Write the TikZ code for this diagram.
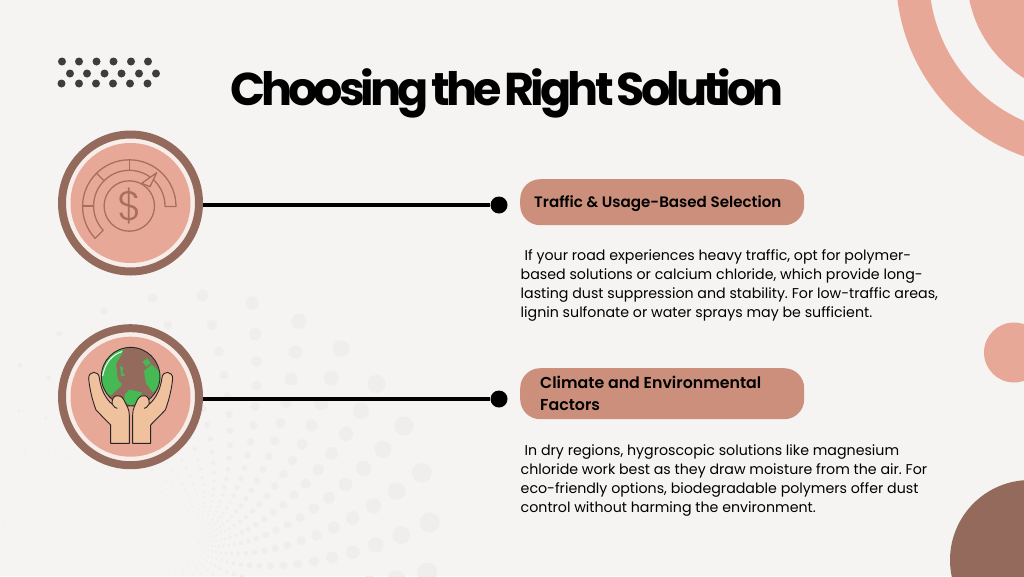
\documentclass[tikz,border=0pt]{standalone}
\usepackage{fontspec}
\setmainfont{Poppins}
\newfontfamily\popsemi{Poppins SemiBold}
\newfontfamily\poptitle[LetterSpace=-8.5,WordSpace=0.5]{Poppins Bold}
\newfontfamily\poplight{Poppins Light}
\usetikzlibrary{calc}
\definecolor{bgc}{HTML}{F6F4F2}
\definecolor{dotbg}{HTML}{EFEEEC}
\definecolor{pinkc}{HTML}{E8A898}
\definecolor{brownc}{HTML}{946A5C}
\definecolor{pillc}{HTML}{CB8F7B}
\definecolor{gapc}{HTML}{F7EDE9}
\definecolor{iconc}{HTML}{A86F5C}
\definecolor{dotc}{HTML}{3F3D3B}
\definecolor{skin}{HTML}{EFC19C}
\definecolor{greenc}{HTML}{45B954}
\tikzset{
  x=1pt,y=-1pt,
  ringnode/.style={circle,fill=gapc,draw=brownc,line width=8pt,minimum size=137pt,inner sep=0pt},
  pinknode/.style={circle,fill=pinkc,minimum size=120pt,inner sep=0pt},
  pillnode/.style={rounded corners=20pt,fill=pillc,minimum width=284pt,anchor=north west,inner sep=0pt},
  pilltext/.style={font=\popsemi\fontsize{15.1}{21.8}\selectfont,text=black,align=left,anchor=west,inner sep=0pt},
  pilltextb/.style={font=\popsemi\fontsize{15.8}{21.8}\selectfont,text=black,align=left,anchor=west,inner sep=0pt},
  bodytext/.style={font=\frenchspacing\fontsize{14.2}{19.2}\selectfont,text=black,align=left,anchor=north west,inner sep=0pt},
  enddot/.style={circle,fill=black,minimum size=17pt,inner sep=0pt},
  wire/.style={line width=4.5pt,black},
  gauge/.style={draw=iconc,line width=1.3pt,line join=round},
  handline/.style={draw=black!85,line width=0.9pt,line join=round,fill=skin}
}
\begin{document}
\begin{tikzpicture}
\fill[bgc] (0,0) rectangle (1024,576);
\useasboundingbox (0,0) rectangle (1024,576);
% background dot swirl
\begin{scope}
\clip (0,0) rectangle (1024,576);
\foreach \i in {0,...,24}{
  \foreach \j in {0,...,29}{
    \pgfmathsetmacro{\Rr}{240*0.88^\i}
    \pgfmathsetmacro{\Th}{3+12*\j-3*\i}
    \pgfmathsetmacro{\Dr}{\Rr*(0.023+0.019*cos(\Th))}
    \fill[dotbg] ({190+\Rr*cos(\Th)},{535-\Rr*sin(\Th)}) circle[radius=\Dr pt];
  }
}
\end{scope}
% corner decorations
\fill[pinkc,even odd rule] (1087,-24) circle[radius=191pt] (1087,-24) circle[radius=158pt];
\fill[pinkc] (1087,-24) circle[radius=120pt];
\fill[pinkc] (1014,352.5) circle[radius=30pt];
\fill[brownc] (1030,560) circle[radius=80pt];
% dot grid
\foreach \x in {62,79,96.5,113.5,131,148}{\fill[dotc] (\x,61.5) circle[radius=4pt];}
\foreach \x in {70,87,104.5,121.5,139,156}{\fill[dotc] (\x,73.5) circle[radius=4pt];}
\foreach \x in {61.5,79,96,113,130,147.5}{\fill[dotc] (\x,83.5) circle[radius=4pt];}
% title
\node[font=\poptitle\fontsize{46}{50}\selectfont,text=black,inner sep=0pt,anchor=base] (title) at (507,105) {Choosing the Right Solution};
% end dots and circles
\node[enddot] (d1) at (499,205) {};
\node[enddot] (d2) at (499,399) {};
\node[ringnode] (c1) at (130.5,203) {};
\node[ringnode] (c2) at (130.5,396.7) {};
\node[pinknode] (p1) at (c1) {};
\node[pinknode] (p2) at (c2) {};
\draw[wire] (d1) -- (d1 -| c1.east);
\draw[wire] (d2) -- (d2 -| c2.east);
% pills
\node[pillnode,minimum height=46pt] (b1) at (520,179) {};
\node[pillnode,minimum height=51pt] (b2) at (520,368) {};
\node[pilltext] (t1) at (534,203.5) {Traffic \& Usage-Based Selection};
\node[pilltextb] (t2) at (540,393) {Climate and Environmental\\Factors};
% body
\node[bodytext] (x1) at (520.5,249) {\hspace{4pt}If your road experiences heavy traffic, opt for polymer-\\based solutions or calcium chloride, which provide long-\\lasting dust suppression and stability. For low-traffic areas,\\lignin sulfonate or water sprays may be sufficient.};
\node[bodytext] (x2) at (520.5,444) {\hspace{4pt}In dry regions, hygroscopic solutions like magnesium\\chloride work best as they draw moisture from the air. For\\eco-friendly options, biodegradable polymers offer dust\\control without harming the environment.};
% gauge icon
\begin{scope}[shift={(129.3,206)}]
\draw[gauge] (0,0) circle[radius=25.2pt];
\draw[gauge] (35.7,0.5) -- (46.7,0.5) arc[start angle=0,end angle=223,radius=46.7pt] -- (-223:35.7) arc[start angle=223,end angle=0,radius=35.7pt] -- cycle;
\draw[gauge] (-90:36) -- (-90:46.7);
\draw[gauge] (-135:36) -- (-135:46.7);
\draw[gauge] (-180:36) -- (-180:46.7);
\draw[gauge,fill=pinkc] (12.4,-22.7) -- (27.4,-33.3) -- (20.7,-19.3) -- cycle;
\node[font=\poplight\fontsize{41}{41}\selectfont,text=iconc,inner sep=0pt] (dollar) at (0,0) {\$};
\end{scope}
% globe and hands icon
\begin{scope}[shift={(40,315)},x=0.3333pt,y=-0.3333pt]
\coordinate (g) at (272,185);
\begin{scope}
\clip (g) circle[radius=29.3pt];
\fill[brownc] (g) circle[radius=29.3pt];
\fill[greenc] (252,95) .. controls (225,100) and (170,130) .. (170,190) .. controls (175,215) and (195,235) .. (212,242) .. controls (225,225) and (250,215) .. (245,205) .. controls (225,195) and (235,170) .. (228,150) .. controls (232,130) and (250,125) .. (252,95) -- cycle;
\fill[greenc] (240,153) -- (250,158) -- (247,172) -- (256,182) -- (244,184) -- cycle;
\fill[greenc] (312,168) -- (335,148) -- (352,165) -- (375,180) -- (365,215) -- (338,232) -- (318,205) -- cycle;
\fill[greenc] (308,140) -- (322,130) -- (332,145) -- (318,155) -- cycle;
\fill[greenc] (255,238) -- (268,224) -- (305,232) -- (300,262) -- (272,272) -- (252,258) -- cycle;
\end{scope}
\draw[black!85,line width=0.9pt] (g) circle[radius=29.3pt];
\draw[white,line width=1pt,line cap=round] (188,182) .. controls (195,145) and (215,120) .. (245,110);
% left hand
\draw[handline] (212,385) -- (212,330) -- (168,285) .. controls (155,250) and (148,215) .. (146,190) .. controls (146,168) and (175,165) .. (178,188) .. controls (182,220) and (195,250) .. (217,268) .. controls (212,240) and (240,232) .. (252,255) .. controls (258,270) and (268,280) .. (268,300) -- (268,385) -- cycle;
\draw[black!85,line width=0.9pt] (217,268) .. controls (222,275) and (228,282) .. (232,280);
% right hand
\draw[handline] (332,385) -- (332,330) -- (376,285) .. controls (389,250) and (396,215) .. (398,190) .. controls (398,168) and (369,165) .. (366,188) .. controls (362,220) and (349,250) .. (327,268) .. controls (332,240) and (304,232) .. (292,255) .. controls (286,270) and (278,280) .. (278,300) -- (278,385) -- cycle;
\draw[black!85,line width=0.9pt] (327,268) .. controls (322,275) and (316,282) .. (312,280);
\end{scope}
\end{tikzpicture}
\end{document}
